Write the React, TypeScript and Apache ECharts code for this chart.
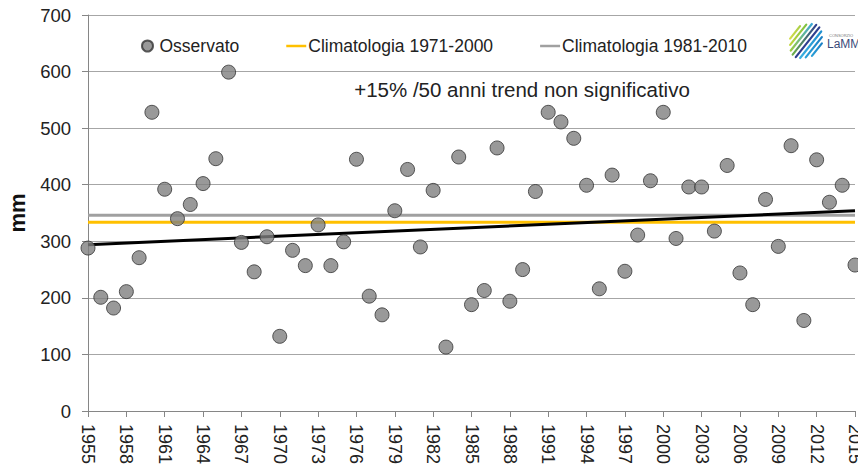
import React, { useEffect, useRef } from "react";
import * as echarts from "echarts";

const years: string[] = Array.from({ length: 61 }, (_, i) => String(1955 + i));

const observed: number[] = [
  288, 201, 182, 211, 271, 528, 392, 340, 365, 402,
  446, 599, 298, 246, 308, 132, 284, 257, 329, 257,
  299, 445, 203, 170, 354, 427, 290, 390, 113, 449,
  188, 213, 465, 194, 250, 388, 528, 511, 482, 399,
  216, 417, 247, 311, 407, 528, 305, 396, 396, 318,
  434, 244, 188, 374, 291, 469, 160, 444, 369, 399,
  258,
];

const clim7100: number = 333.5;
const clim8110: number = 346;
const trendStart: number = 294;
const trendEnd: number = 354;

const seriesNames: string[] = ["Osservato", "Climatologia 1971-2000", "Climatologia 1981-2010"];
const annotation = "+15% /50 anni trend non significativo";

const FONT = "'Liberation Sans', Arial, sans-serif";
const LINE_ICON = "path://M0 0 H24 V3 H0 Z";

function logo() {
  const children: any[] = [];
  const stripes = [
    { off: -14, len: 16, c0: "#d4dc4a", c1: "#a8cf45" },
    { off: -10, len: 26, c0: "#c2d63c", c1: "#7dc142" },
    { off: -6, len: 34, c0: "#9ccb3f", c1: "#3aa6d6" },
    { off: -2, len: 38, c0: "#6ab04c", c1: "#2e3f8f" },
    { off: 2, len: 38, c0: "#2e3f8f", c1: "#2e3f8f" },
    { off: 6, len: 34, c0: "#3bb0e0", c1: "#1f8fd0" },
    { off: 10, len: 26, c0: "#2aa0d8", c1: "#1b7fc4" },
    { off: 14, len: 16, c0: "#2aa0d8", c1: "#1b7fc4" },
  ];
  const cx = 806;
  const cy = 41;
  const ux = 0.62;
  const uy = -0.78;
  const px = 0.78;
  const py = 0.62;
  stripes.forEach((s) => {
    const mx = cx + px * s.off;
    const my = cy + py * s.off;
    children.push({
      type: "line",
      shape: {
        x1: mx - (ux * s.len) / 2,
        y1: my - (uy * s.len) / 2,
        x2: mx + (ux * s.len) / 2,
        y2: my + (uy * s.len) / 2,
      },
      style: {
        stroke: {
          type: "linear",
          x: 0,
          y: 1,
          x2: 1,
          y2: 0,
          colorStops: [
            { offset: 0, color: s.c0 },
            { offset: 1, color: s.c1 },
          ],
        },
        lineWidth: 2.2,
        lineCap: "round",
      },
    });
  });
  children.push({
    type: "text",
    x: 829,
    y: 33,
    style: { text: "CONSORZIO", fontSize: 4, fill: "#777", fontFamily: FONT },
  });
  children.push({
    type: "text",
    x: 827,
    y: 38,
    style: { text: "LaMMA", fontSize: 12, fill: "#3a4a7a", fontFamily: FONT },
  });
  return { type: "group", children };
}

export default function App() {
  const ref = useRef<HTMLDivElement>(null);
  useEffect(() => {
    if (!ref.current) return;
    const chart = echarts.init(ref.current, null, { renderer: "svg" });
    const first = years[0];
    const last = years[years.length - 1];
    chart.setOption({
      animation: false,
      backgroundColor: "#ffffff",
      textStyle: { fontFamily: FONT },
      grid: {
        left: 88,
        right: 3,
        top: 15,
        bottom: 57,
        containLabel: false,
        outerBoundsMode: "none",
      },
      legend: {
        left: 136,
        top: 32,
        itemGap: 47,
        itemWidth: 20,
        itemHeight: 11,
        textStyle: { fontSize: 17.5, color: "#222", fontFamily: FONT, padding: [0, 0, 0, -3] },
        data: [
          { name: seriesNames[0], icon: "circle" },
          { name: seriesNames[1], icon: LINE_ICON },
          { name: seriesNames[2], icon: LINE_ICON },
        ],
      },
      xAxis: {
        type: "category",
        data: years,
        boundaryGap: false,
        axisLine: { show: true, lineStyle: { color: "#868686", width: 1 } },
        axisTick: { show: true, interval: 2, length: 6, lineStyle: { color: "#868686" } },
        axisLabel: {
          interval: 2,
          rotate: -90,
          fontSize: 18,
          color: "#222",
          margin: 13,
          fontFamily: FONT,
        },
        splitLine: { show: false },
      },
      yAxis: {
        type: "value",
        min: 0,
        max: 700,
        interval: 100,
        name: "mm",
        nameLocation: "middle",
        nameRotate: 90,
        nameGap: 60,
        nameTextStyle: { fontSize: 22, fontWeight: "bold", color: "#111", fontFamily: FONT },
        axisLine: { show: true, lineStyle: { color: "#868686", width: 1 } },
        axisTick: { show: true, length: 6, lineStyle: { color: "#868686" } },
        axisLabel: { fontSize: 18.5, color: "#222", margin: 17, fontFamily: FONT },
        splitLine: { show: true, lineStyle: { color: "#a6a6a6", width: 1 } },
      },
      graphic: [
        {
          type: "text",
          x: 522,
          y: 89,
          style: {
            text: annotation,
            fontSize: 20.5,
            fill: "#222",
            fontFamily: FONT,
            textAlign: "center",
            textVerticalAlign: "middle",
          },
        },
        logo(),
      ],
      series: [
        {
          name: seriesNames[1],
          type: "line",
          symbol: "none",
          data: [
            [first, clim7100],
            [last, clim7100],
          ],
          lineStyle: { color: "#FFC000", width: 3 },
          itemStyle: { color: "#FFC000" },
          z: 2,
        },
        {
          name: seriesNames[2],
          type: "line",
          symbol: "none",
          data: [
            [first, clim8110],
            [last, clim8110],
          ],
          lineStyle: { color: "#a0a0a0", width: 3 },
          itemStyle: { color: "#a0a0a0" },
          z: 2,
        },
        {
          name: "trend",
          type: "line",
          symbol: "none",
          data: [
            [first, trendStart],
            [last, trendEnd],
          ],
          lineStyle: { color: "#000", width: 3 },
          itemStyle: { color: "#000" },
          z: 3,
        },
        {
          name: seriesNames[0],
          type: "scatter",
          data: observed,
          symbol: "circle",
          symbolSize: 14,
          itemStyle: { color: "#808080", borderColor: "#333", borderWidth: 1 },
          z: 4,
        },
      ],
    });
    return () => chart.dispose();
  }, []);
  return <div ref={ref} style={{ width: 858, height: 468, position: "absolute", left: 0, top: 0 }} />;
}
